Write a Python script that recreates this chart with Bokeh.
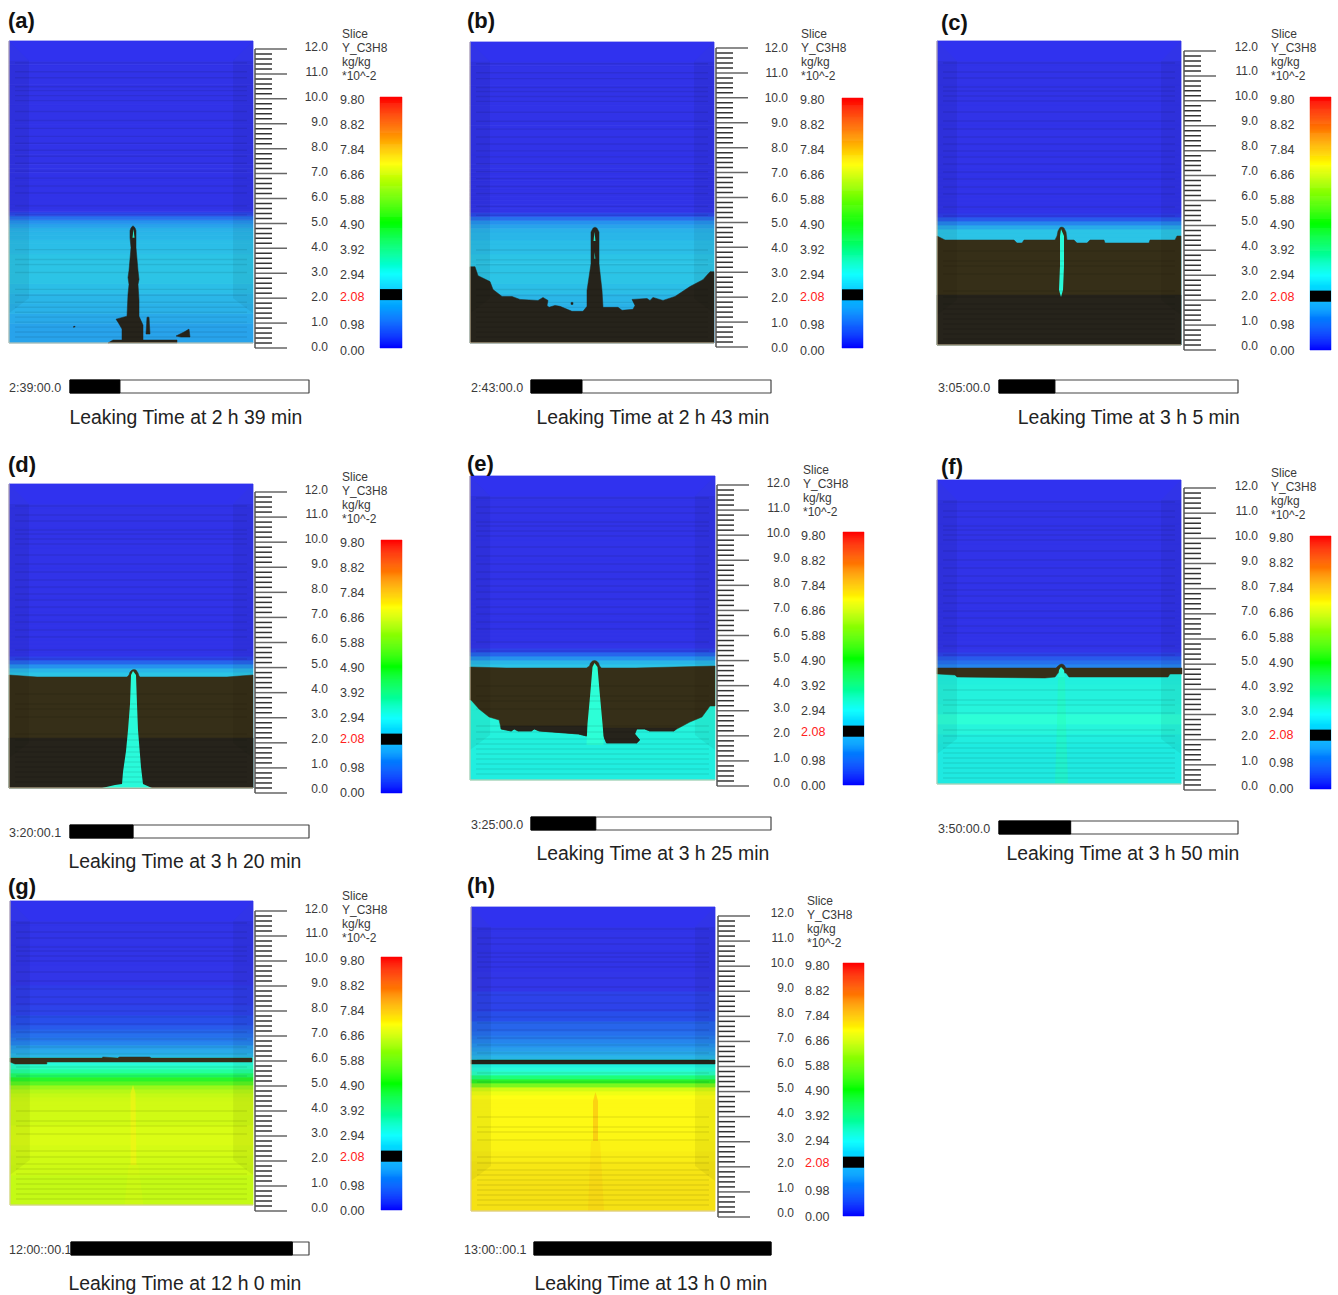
from bokeh.plotting import figure
from bokeh.models import ColumnDataSource, LinearColorMapper, Range1d
from bokeh.core.properties import value
from bokeh.embed import file_html
from bokeh.resources import INLINE

# ---------- values ----------
LETTERS = ["(a)", "(b)", "(c)", "(d)", "(e)", "(f)", "(g)", "(h)"]
TIMES = ["2:39:00.0", "2:43:00.0", "3:05:00.0", "3:20:00.1", "3:25:00.0", "3:50:00.0", "12:00::00.1", "13:00::00.1"]
CAPTIONS = ["Leaking Time at 2 h 39 min", "Leaking Time at 2 h 43 min", "Leaking Time at 3 h 5 min",
            "Leaking Time at 3 h 20 min", "Leaking Time at 3 h 25 min", "Leaking Time at 3 h 50 min",
            "Leaking Time at 12 h 0 min", "Leaking Time at 13 h 0 min"]
PROGRESS = [0.209, 0.2125, 0.234, 0.264, 0.27, 0.30, 0.93, 1.0]
HEADER = ["Slice", "Y_C3H8", "kg/kg", "*10^-2"]
HEIGHT_TICKS = [0.0, 1.0, 2.0, 3.0, 4.0, 5.0, 6.0, 7.0, 8.0, 9.0, 10.0, 11.0, 12.0]
SCALE_TICKS = [0.00, 0.98, 2.08, 2.94, 3.92, 4.90, 5.88, 6.86, 7.84, 8.82, 9.80]
SCALE_MARK = (1.87, 2.30)

# heights (pixels of a 244 x 304 slab) of the field's rows, and the mass fraction of each
ROW_EDGES = [0, 10, 20, 30, 40, 50, 60, 70, 80, 90, 100, 104, 108, 112, 116, 120, 124, 128, 132, 136, 140,
             144, 148, 152, 156, 160, 164, 168, 172, 176, 180, 190, 200, 220, 240, 260, 280, 304]
ROWS_A = [1.55, 1.55, 1.6, 1.65, 1.7, 1.75, 1.8, 1.8, 1.8, 1.75, 1.75, 1.7, 1.7, 1.65, 1.55, 1.4, 1.1, 0.7, 0.35,
          0.25, 0.22, 0.2, 0.2, 0.2, 0.2, 0.2, 0.2, 0.2, 0.2, 0.2, 0.2, 0.2, 0.2, 0.2, 0.2, 0.2, 0.25]
ROWS_B = [1.55, 1.55, 1.6, 1.65, 1.7, 1.75, 1.8, 1.8, 1.8, 1.75, 1.75, 1.7, 1.7, 1.65, 1.55, 1.4, 1.1, 0.7, 0.35,
          0.25, 0.22, 0.2, 0.2, 0.2, 0.2, 0.2, 0.2, 0.2, 0.2, 0.2, 0.2, 0.2, 0.2, 0.2, 0.2, 0.2, 0.25]
ROWS_C = [1.8, 1.8, 1.8, 1.8, 1.8, 1.8, 1.8, 1.8, 1.8, 1.8, 1.8, 1.8, 1.8, 1.8, 1.6, 1.3, 0.9, 0.5, 0.3,
          0.25, 0.22, 0.2, 0.2, 0.2, 0.2, 0.2, 0.2, 0.2, 0.2, 0.2, 0.2, 0.2, 0.2, 0.2, 0.2, 0.2, 0.25]
ROWS_D = [1.8, 1.8, 1.8, 1.8, 1.8, 1.8, 1.8, 1.8, 1.8, 1.8, 1.8, 1.8, 1.8, 1.8, 1.7, 1.4, 1.0, 0.6, 0.3,
          0.25, 0.22, 0.2, 0.2, 0.2, 0.2, 0.2, 0.2, 0.2, 0.2, 0.2, 0.2, 0.2, 0.2, 0.2, 0.2, 0.2, 0.25]
ROWS_E = [2.65, 2.65, 2.7, 2.7, 2.75, 2.8, 2.85, 2.85, 2.85, 2.85, 2.85, 2.85, 2.85, 1.8, 1.7, 1.4, 1.0, 0.6, 0.35,
          0.25, 0.22, 0.2, 0.2, 0.2, 0.2, 0.2, 0.2, 0.2, 0.2, 0.2, 0.2, 0.2, 0.2, 0.2, 0.2, 0.2, 0.25]
ROWS_F = [2.55, 2.55, 2.55, 2.6, 2.65, 2.8, 3.0, 2.8, 2.75, 2.75, 2.7, 2.7, 2.7, 2.7, 1.3, 1.1, 0.9, 0.6, 0.4,
          0.3, 0.25, 0.2, 0.2, 0.2, 0.2, 0.2, 0.2, 0.2, 0.2, 0.2, 0.2, 0.2, 0.2, 0.2, 0.2, 0.2, 0.25]
ROWS_G = [5.85, 5.85, 5.85, 5.9, 5.95, 6.0, 6.1, 6.05, 5.95, 5.95, 5.95, 5.9, 5.85, 5.75, 5.6, 5.2, 4.9, 4.2, 3.6,
          3.2, 2.9, 2.7, 1.7, 1.6, 1.5, 1.3, 1.2, 1.1, 1.0, 0.9, 0.8, 0.6, 0.5, 0.35, 0.3, 0.25, 0.25]
ROWS_H = [7.3, 7.3, 7.3, 7.25, 7.2, 7.1, 7.0, 6.95, 6.9, 6.9, 6.9, 6.9, 6.9, 6.8, 6.5, 6.0, 5.4, 4.9, 4.0,
          3.2, 2.9, 2.7, 2.6, 1.7, 1.6, 1.5, 1.4, 1.3, 1.2, 1.1, 1.0, 0.8, 0.6, 0.4, 0.3, 0.25, 0.25]

# heights of the faint horizontal layer lines on a slab
LAYER_LINES = [6, 11, 16, 21, 26, 31, 36, 41, 48, 54, 71, 79, 84, 94, 129, 138, 151, 158, 166, 173, 181, 188,
               194, 201, 208, 216, 224, 233, 244, 249, 254, 258, 267, 273, 282]

# outlines of the regions at the marked fraction, slab pixels: (x, height) pairs
DEEP_A = [[(99, 0), (104, 3), (113, 3), (113, 14), (109, 21), (107, 24), (118, 27), (119, 49), (120, 59), (119, 66),
           (120, 73), (122, 96), (121, 106), (121, 113), (122, 116), (124, 118), (126, 116), (127, 113), (127, 96), (129, 73), (130, 64),
           (129, 59), (130, 43), (130, 27), (134, 18), (134, 3), (168, 3), (168, 0)],
          [(137, 9), (138, 26), (140, 26), (141, 9)],
          [(167, 7), (175, 11), (180, 14), (181, 6), (172, 6)],
          [(64, 16), (66, 17), (66, 16)]]
DEEP_B = [[(0, 77), (5, 77), (8, 68), (20, 62), (23, 54), (32, 47), (42, 47), (50, 44), (68, 43), (73, 46), (78, 43),
           (77, 38), (79, 36), (85, 38), (90, 37), (102, 32), (113, 32), (117, 37), (117, 53), (121, 80), (121, 112),
           (123, 116), (125, 117), (127, 116), (129, 112), (129, 80), (132, 53), (133, 36), (148, 36), (152, 33), (163, 34), (165, 38),
           (162, 44), (177, 45), (180, 43), (183, 46), (193, 43), (205, 47), (220, 57), (233, 64), (240, 72),
           (244, 72), (244, 0), (0, 0)],
          [(101, 39), (103, 39), (103, 41), (101, 41)]]
OLIVE_C = [[(0, 0), (0, 109), (8, 105), (77, 105), (80, 102), (85, 102), (87, 105), (118, 105), (120, 109), (121, 114), (123, 117.5),
            (125, 118), (127, 117), (129, 113), (130, 105), (137, 105), (140, 102), (150, 102), (153, 105), (167, 105), (168, 102), (212, 102),
            (213, 105), (238, 105), (240, 109), (244, 109), (244, 0)]]
DEEP_C = [[(0, 0), (0, 50), (244, 50), (244, 0)]]
OLIVE_D = [[(0, 0), (0, 113), (28, 111), (118, 111), (120, 113), (121, 116), (123, 118), (125, 118.5), (127, 118), (129, 115), (130, 112), (131, 111), (218, 111),
            (244, 113), (244, 0)]]
DEEP_D = [[(0, 0), (0, 50), (244, 50), (244, 0)]]
OLIVE_E = [[(0, 80), (0, 113), (36, 112), (116, 112), (119, 114), (120, 117), (122, 119), (124, 119.5), (126, 119), (128, 117), (129, 114), (131, 112), (165, 112), (244, 114),
            (244, 74), (239, 74), (231, 63), (219, 58), (206, 51), (203, 49), (179, 49), (174, 51), (166, 51), (164, 46),
            (169, 40), (166, 37), (136, 37), (133, 44), (116, 44), (108, 46), (69, 49), (64, 51), (61, 49), (48, 49),
            (44, 51), (41, 49), (31, 51), (29, 60), (19, 63), (9, 71), (1, 80)]]
DEEP_E = [[(133, 52), (133, 44), (136, 37), (166, 37), (169, 40), (164, 46), (166, 51), (174, 51), (179, 49), (203, 49),
           (206, 52)],
          [(31, 54), (31, 51), (41, 49), (44, 51), (48, 49), (61, 49), (64, 51), (69, 49), (108, 46), (116, 44), (116, 54)]]
OLIVE_F = [[(0, 116), (119, 116), (121, 118), (123, 119.5), (125, 120), (127, 119), (129, 116), (245, 116), (245, 110), (233, 110), (231, 107), (132, 107),
            (129, 111), (121, 111), (118, 107), (108, 106), (20, 107), (18, 109), (1, 110), (0, 110)]]
OLIVE_G = [[(0, 147), (93, 147), (93, 148), (108, 147), (110, 148), (140, 148), (142, 147), (243, 147), (243, 143),
            (37, 143), (37, 141), (5, 141), (0, 143)]]
DEEP_H = [[(0, 151), (244, 151), (244, 147), (0, 147)]]

# plumes: mass fraction, opacity, outline
PLUMES_A = [(2.9, 0.9, [(123.5, 106), (124.5, 115), (125.5, 106)])]
PLUMES_B = [(2.9, 0.9, [(123.5, 103), (124.5, 112), (125.5, 103)]), (2.9, 0.6, [(124, 85), (124.5, 92), (125.5, 85)])]
PLUMES_C = [(2.9, 1, [(124, 48), (122, 55), (123, 79), (123, 109), (124, 116), (127, 109), (127, 79), (126, 55)])]
PLUMES_D = [(2.9, 1, [(93, 0), (106, 3), (113, 4), (114, 16), (117, 37), (119, 58), (121, 84), (122, 113), (124, 117),
                      (127, 113), (128, 84), (129, 58), (132, 21), (134, 4), (143, 0)])]
PLUMES_E = [(3.0, 1, [(116, 35), (117, 56), (120, 89), (122, 113), (124, 117), (127, 113), (129, 89), (132, 56),
                      (133, 43), (133, 35)])]
PLUMES_F = [(2.9, 1, [(121, 107), (122, 114), (124, 117), (127, 114), (128, 107)]),
            (3.5, 0.35, [(118, 0), (120, 60), (121, 107), (128, 107), (129, 60), (131, 0)])]
PLUMES_G = [(7.0, 0.55, [(121, 40), (121, 112), (123.5, 120), (126, 112), (127, 40)]),
            (7.0, 0.12, [(115, 0), (119, 40), (129, 40), (134, 0)])]
PLUMES_H = [(8.1, 0.4, [(122, 70), (122, 110), (124.5, 119), (127, 110), (127, 70)]),
            (8.0, 0.15, [(117, 0), (120, 70), (129, 70), (133, 0)])]

ROWS = [ROWS_A, ROWS_B, ROWS_C, ROWS_D, ROWS_E, ROWS_F, ROWS_G, ROWS_H]
OLIVE = [[], [], OLIVE_C, OLIVE_D, OLIVE_E, OLIVE_F, OLIVE_G, []]
DEEP = [DEEP_A, DEEP_B, DEEP_C, DEEP_D, DEEP_E, [], [], DEEP_H]
PLUMES = [PLUMES_A, PLUMES_B, PLUMES_C, PLUMES_D, PLUMES_E, PLUMES_F, PLUMES_G, PLUMES_H]

# ---------- page layout of the eight panels ----------
LAYOUT = [
    dict(sx=(9, 253), sy=(41, 343), rx=255, ry=(49, 348), ly=(46, 346), lab=328, head=(342, 34), cx=(380, 402), cy=(97, 348), cly=(99, 350), cl=340,
         tx=9, bx=(70, 309), by=(380, 393), cap=(186, 417), let=(8, 20)),
    dict(sx=(470, 714), sy=(42, 343), rx=716, ry=(48, 347), ly=(47, 347), lab=788, head=(801, 34), cx=(842, 863), cy=(98, 348), cly=(99, 350), cl=800,
         tx=471, bx=(531, 771), by=(380, 393), cap=(653, 417), let=(467, 20)),
    dict(sx=(937, 1181), sy=(41, 345), rx=1184, ry=(51, 350), ly=(46, 345), lab=1258, head=(1271, 34), cx=(1310, 1331), cy=(97, 350), cly=(99, 350), cl=1270,
         tx=938, bx=(999, 1238), by=(380, 393), cap=(1129, 417), let=(941, 22)),
    dict(sx=(9, 253), sy=(484, 788), rx=255, ry=(492, 793), ly=(489, 788), lab=328, head=(342, 477), cx=(381, 402), cy=(540, 793), cly=(542, 792), cl=340,
         tx=9, bx=(70, 309), by=(825, 838), cap=(185, 861), let=(8, 464)),
    dict(sx=(470, 715), sy=(476, 780), rx=717, ry=(485, 786), ly=(482, 782), lab=790, head=(803, 470), cx=(843, 864), cy=(532, 785), cly=(535, 785), cl=801,
         tx=471, bx=(531, 771), by=(817, 830), cap=(653, 853), let=(467, 463)),
    dict(sx=(937, 1181), sy=(480, 784), rx=1184, ry=(488, 790), ly=(485, 785), lab=1258, head=(1271, 473), cx=(1310, 1331), cy=(536, 789), cly=(537, 788), cl=1269,
         tx=938, bx=(999, 1238), by=(821, 834), cap=(1123, 853), let=(941, 466)),
    dict(sx=(10, 253), sy=(901, 1205), rx=255, ry=(911, 1211), ly=(908, 1207), lab=328, head=(342, 896), cx=(381, 402), cy=(957, 1210), cly=(960, 1210), cl=340,
         tx=9, bx=(71, 309), by=(1242, 1255), cap=(185, 1283), let=(8, 886)),
    dict(sx=(471, 715), sy=(907, 1211), rx=718, ry=(916, 1217), ly=(912, 1212), lab=794, head=(807, 901), cx=(843, 864), cy=(963, 1216), cly=(965, 1216), cl=805,
         tx=464, bx=(534, 771), by=(1242, 1255), cap=(651, 1283), let=(467, 885)),
]


def ramp(stops, low=0.0, high=9.8, n=512):
    out = []
    for i in range(n):
        v = low + (high - low) * (i + 0.5) / n
        for (a, ca), (b, cb) in zip(stops, stops[1:]):
            if a <= v <= b:
                t = (v - a) / (b - a)
                out.append("#%02x%02x%02x" % tuple(round(p + (q - p) * t) for p, q in zip(ca, cb)))
                break
    return out


SLAB_STOPS = [(0, (48, 48, 232)), (0.4, (50, 54, 232)), (0.8, (40, 78, 235)), (1.4, (38, 145, 238)), (1.8, (44, 196, 230)),
              (2.6, (30, 235, 225)), (3.0, (45, 255, 215)), (4.0, (30, 255, 120)), (4.9, (40, 245, 40)),
              (5.9, (205, 250, 20)), (6.2, (225, 255, 20)), (6.8, (255, 255, 20)), (7.3, (245, 225, 20)),
              (9.8, (255, 0, 0))]
BAR_STOPS = [(0, (0, 0, 255)), (1.6, (0, 160, 255)), (2.3, (0, 205, 255)), (2.9, (0, 255, 255)), (4.9, (0, 255, 0)),
             (7.2, (255, 255, 0)), (9.8, (255, 0, 0))]
slab_map = LinearColorMapper(palette=ramp(SLAB_STOPS), low=0, high=9.8)
bar_map = LinearColorMapper(palette=ramp(BAR_STOPS), low=0, high=9.8)

FONT = value("Liberation Sans")
p = figure(width=1338, height=1295, x_range=Range1d(0.5, 1338.5), y_range=Range1d(1295.5, 0.5),
           output_backend="svg", toolbar_location=None, x_axis_location=None, y_axis_location=None,
           min_border=0, outline_line_color=None)
p.grid.visible = False

texts = {"left": dict(x=[], y=[], t=[], c=[], s=[], w=[]), "right": dict(x=[], y=[], t=[], c=[], s=[], w=[]),
         "center": dict(x=[], y=[], t=[], c=[], s=[], w=[])}


def label(align, x, y, t, size, color="#3a3a3a", weight="normal"):
    d = texts[align]
    d["x"].append(x); d["y"].append(y); d["t"].append(t); d["c"].append(color); d["s"].append(size); d["w"].append(weight)


for i, g in enumerate(LAYOUT):
    x0, x1 = g["sx"]
    ytop, ybot = g["sy"]
    fx = lambda v: x0 + v * (x1 - x0) / 244
    fy = lambda v: ybot - v * (ybot - ytop) / 304

    # field rows
    src = ColumnDataSource(dict(l=[x0] * len(ROWS[i]), r=[x1] * len(ROWS[i]),
                                b=[fy(e) for e in ROW_EDGES[:-1]], t=[fy(e) for e in ROW_EDGES[1:]], c=ROWS[i]))
    p.quad(left="l", right="r", bottom="b", top="t", source=src,
           fill_color={"field": "c", "transform": slab_map}, line_color={"field": "c", "transform": slab_map},
           line_width=0.8)

    # regions at the marked fraction
    for polys, col in ((OLIVE[i], "#362f18"), (DEEP[i], "#26231b")):
        if polys:
            p.patches([[fx(a) for a, _ in q] for q in polys], [[fy(b) for _, b in q] for q in polys],
                      fill_color=col, line_color=col, line_width=0.5)

    # plumes
    for conc, alpha, q in PLUMES[i]:
        s2 = ColumnDataSource(dict(xs=[[fx(a) for a, _ in q]], ys=[[fy(b) for _, b in q]], c=[conc]))
        p.patches("xs", "ys", source=s2, fill_color={"field": "c", "transform": slab_map}, fill_alpha=alpha,
                  line_color=None)

    # perspective of the slab
    p.patches([[fx(0), fx(244), fx(224), fx(20)]], [[fy(304), fy(304), fy(284), fy(284)]],
              fill_color="#3030ff", fill_alpha=0.3, line_color=None)
    p.patches([[fx(0), fx(20), fx(20), fx(0)], [fx(244), fx(224), fx(224), fx(244)]],
              [[fy(284), fy(284), fy(45), fy(30)], [fy(284), fy(284), fy(45), fy(30)]],
              fill_color="#000000", fill_alpha=0.055, line_color=None)
    p.segment([fx(6)] * len(LAYER_LINES), [fy(v) for v in LAYER_LINES], [fx(238)] * len(LAYER_LINES),
              [fy(v) for v in LAYER_LINES], line_color="#000000", line_alpha=0.08, line_width=1.4)
    p.line([x0, x0, x1], [ytop, ybot, ybot], line_color="#d8c8a8", line_width=1)

    # ruler
    rx = g["rx"]
    ry12, ry0 = g["ry"]
    ly12, ly0 = g["ly"]
    fh = lambda v: ry0 - v * (ry0 - ry12) / 12
    minor = [k * 0.2 for k in range(61) if k % 5]
    p.segment([rx] * len(minor), [fh(v) for v in minor], [rx + 17] * len(minor), [fh(v) for v in minor],
              line_color="#333333", line_width=1.5)
    p.segment([rx] * len(HEIGHT_TICKS), [fh(v) for v in HEIGHT_TICKS], [rx + 32] * len(HEIGHT_TICKS),
              [fh(v) for v in HEIGHT_TICKS], line_color="#666666", line_width=1.5)
    p.segment([rx], [ry12], [rx], [ry0], line_color="#555555", line_width=1.5)
    for v in HEIGHT_TICKS:
        label("right", g["lab"], ly0 - v * (ly0 - ly12) / 12, "%.1f" % v, "12px")

    # header and colour scale
    hx, hy = g["head"]
    for k, t in enumerate(HEADER):
        label("left", hx, hy + k * 14, t, "12px")
    cx0, cx1 = g["cx"]
    ctop, cbot = g["cy"]
    cl12, cl0 = g["cly"]
    fc = lambda v: cbot - v * (cbot - ctop) / 9.8
    levels = [k * 0.04 for k in range(245)]
    s3 = ColumnDataSource(dict(l=[cx0] * len(levels), r=[cx1] * len(levels), b=[fc(v) for v in levels],
                               t=[fc(v + 0.04) for v in levels], c=[v + 0.02 for v in levels]))
    p.quad(left="l", right="r", bottom="b", top="t", source=s3, fill_color={"field": "c", "transform": bar_map},
           line_color={"field": "c", "transform": bar_map}, line_width=0.5)
    p.quad(left=[cx0], right=[cx1], bottom=[fc(SCALE_MARK[0])], top=[fc(SCALE_MARK[1])], fill_color="#000000",
           line_color=None)
    for v in SCALE_TICKS:
        label("left", g["cl"], cl0 - v * (cl0 - cl12) / 9.8, "%.2f" % v, "12.5px", "#ff2020" if v == 2.08 else "#3a3a3a")

    # time bar
    bx0, bx1 = g["bx"]
    by0, by1 = g["by"]
    p.quad(left=[bx0], right=[bx1], bottom=[by1], top=[by0], fill_color="#ffffff", line_color="#444444", line_width=1.2)
    p.quad(left=[bx0], right=[bx0 + PROGRESS[i] * (bx1 - bx0)], bottom=[by1], top=[by0], fill_color="#000000",
           line_color="#000000", line_width=1)
    label("left", g["tx"], (by0 + by1) / 2 + 1, TIMES[i], "12.5px")

    label("center", g["cap"][0], g["cap"][1], CAPTIONS[i], "19.4px", "#222222")
    label("left", g["let"][0], g["let"][1], LETTERS[i], "22px", "#111111", "bold")

for align, d in texts.items():
    for wt in ("normal", "bold"):
        idx = [k for k, w in enumerate(d["w"]) if w == wt]
        if not idx:
            continue
        src = ColumnDataSource({k: [d[k][j] for j in idx] for k in ("x", "y", "t", "c", "s")})
        p.text("x", "y", text="t", source=src, text_color="c", text_font_size="s", text_font=FONT,
               text_align=align, text_baseline="middle", text_font_style=wt)

open("out.html", "w").write(file_html(p, INLINE))
